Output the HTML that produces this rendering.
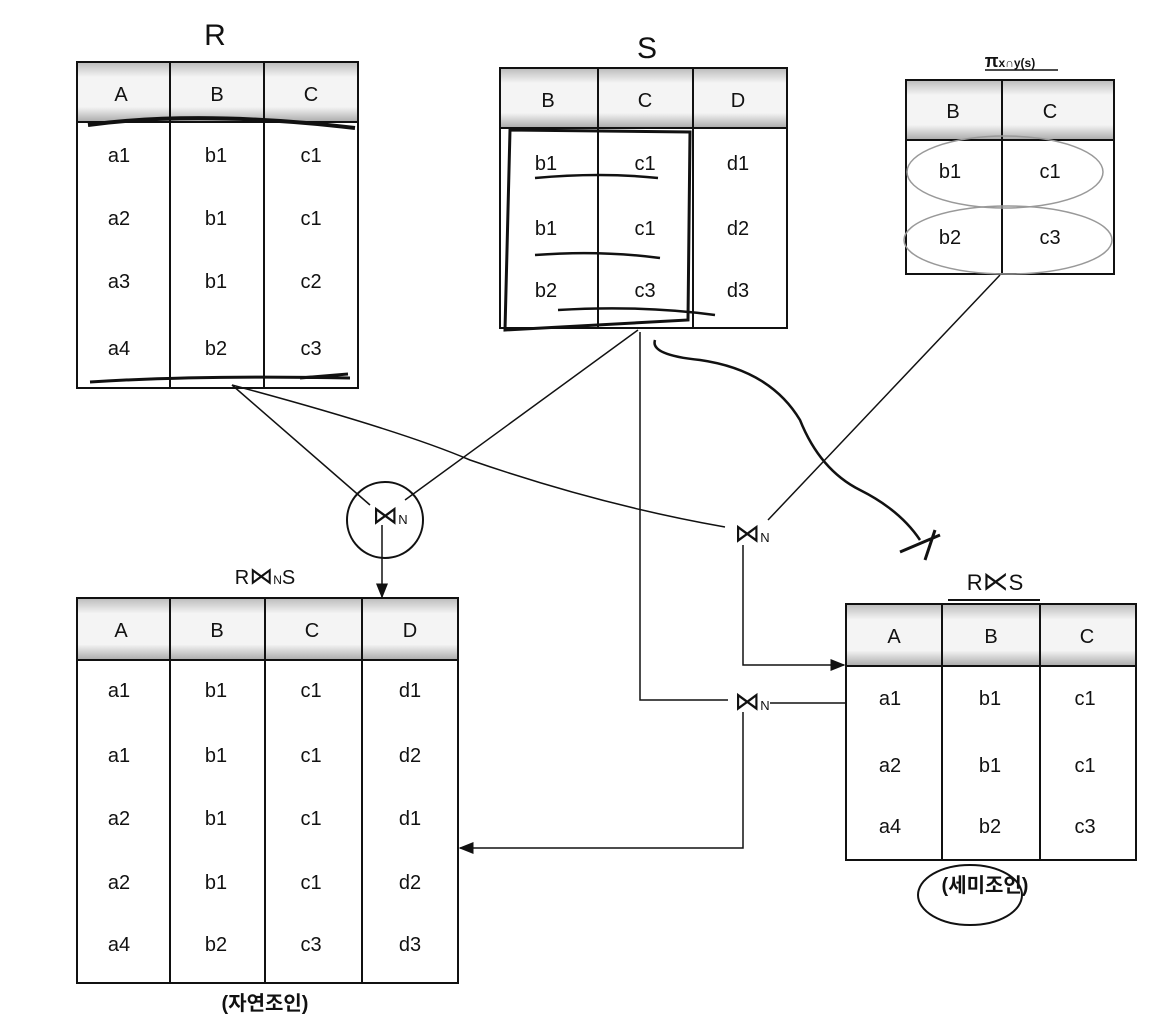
<!DOCTYPE html>
<html><head><meta charset="utf-8"><style>
body{margin:0;background:#fff}
svg{display:block}
text{font-family:"Liberation Sans","Noto Sans CJK KR",sans-serif;fill:#111}
</style></head><body>
<svg width="1170" height="1020" viewBox="0 0 1170 1020" xmlns="http://www.w3.org/2000/svg">
<defs>
<linearGradient id="h" x1="0" y1="0" x2="0" y2="1">
<stop offset="0" stop-color="#bbb"/><stop offset="0.25" stop-color="#f4f4f4"/><stop offset="0.75" stop-color="#f4f4f4"/><stop offset="1" stop-color="#aaa"/></linearGradient>
<marker id="a" markerWidth="10" markerHeight="10" refX="9" refY="5" orient="auto"><path d="M0,1 L10,5 L0,9 Z" fill="#111"/></marker>
</defs>
<g stroke="#111" stroke-width="2" fill="none">
<rect x="77" y="62" width="281" height="60" fill="url(#h)"/>
<rect x="77" y="122" width="281" height="266"/>
<line x1="170" y1="62" x2="170" y2="388"/><line x1="264" y1="62" x2="264" y2="388"/>
<path d="M88,125 Q200,110 355,128" stroke-width="4"/>
<path d="M90,382 Q200,375 350,378 M300,378 L348,374" stroke-width="3"/>
<rect x="500" y="68" width="287" height="60" fill="url(#h)"/>
<rect x="500" y="128" width="287" height="200"/>
<line x1="598" y1="68" x2="598" y2="328"/><line x1="693" y1="68" x2="693" y2="328"/>
<path d="M510,130 L690,132 L688,320 L505,330 Z" stroke-width="3"/>
<path d="M535,178 Q600,172 658,178 M535,255 Q600,250 660,258 M558,310 Q640,305 715,315" stroke-width="2.5"/>
<rect x="906" y="80" width="208" height="60" fill="url(#h)"/>
<rect x="906" y="140" width="208" height="134"/>
<line x1="1002" y1="80" x2="1002" y2="274"/>
<ellipse cx="1005" cy="172" rx="98" ry="36" stroke="#999" stroke-width="1.5"/>
<ellipse cx="1008" cy="240" rx="104" ry="34" stroke="#999" stroke-width="1.5"/>
<line x1="985" y1="70" x2="1058" y2="70" stroke-width="1.5"/>
<rect x="77" y="598" width="381" height="62" fill="url(#h)"/>
<rect x="77" y="660" width="381" height="323"/>
<line x1="170" y1="598" x2="170" y2="983"/><line x1="265" y1="598" x2="265" y2="983"/><line x1="362" y1="598" x2="362" y2="983"/>
<rect x="846" y="604" width="290" height="62" fill="url(#h)"/>
<rect x="846" y="666" width="290" height="194"/>
<line x1="942" y1="604" x2="942" y2="860"/><line x1="1040" y1="604" x2="1040" y2="860"/>
<line x1="948" y1="600" x2="1040" y2="600"/>
<g stroke-width="1.5">
<line x1="232" y1="385" x2="370" y2="505"/>
<line x1="638" y1="330" x2="405" y2="500"/>
<path d="M232,385 Q400,430 470,460 Q600,505 725,527"/>
<line x1="1000" y1="275" x2="768" y2="520"/>
<line x1="382" y1="525" x2="382" y2="597" marker-end="url(#a)"/>
<polyline points="743,545 743,665 844,665" marker-end="url(#a)"/>
<polyline points="640,332 640,700 728,700"/>
<line x1="770" y1="703" x2="846" y2="703"/>
<polyline points="743,712 743,848 460,848" marker-end="url(#a)"/>
</g>
<path d="M655,340 Q650,355 700,360 Q770,370 800,420 Q820,470 860,490 Q900,510 920,540" stroke-width="2.5"/>
<path d="M900,552 L940,535 M925,560 L935,530" stroke-width="3"/>
<circle cx="385" cy="520" r="38"/>
<ellipse cx="970" cy="895" rx="52" ry="30"/>
</g>
<g font-size="20" text-anchor="middle">
<text x="121" y="101">A</text><text x="217" y="101">B</text><text x="311" y="101">C</text>
<text x="119" y="162">a1</text><text x="216" y="162">b1</text><text x="311" y="162">c1</text>
<text x="119" y="225">a2</text><text x="216" y="225">b1</text><text x="311" y="225">c1</text>
<text x="119" y="288">a3</text><text x="216" y="288">b1</text><text x="311" y="288">c2</text>
<text x="119" y="355">a4</text><text x="216" y="355">b2</text><text x="311" y="355">c3</text>
<text x="548" y="107">B</text><text x="645" y="107">C</text><text x="738" y="107">D</text>
<text x="546" y="170">b1</text><text x="645" y="170">c1</text><text x="738" y="170">d1</text>
<text x="546" y="235">b1</text><text x="645" y="235">c1</text><text x="738" y="235">d2</text>
<text x="546" y="297">b2</text><text x="645" y="297">c3</text><text x="738" y="297">d3</text>
<text x="953" y="118">B</text><text x="1050" y="118">C</text>
<text x="950" y="178">b1</text><text x="1050" y="178">c1</text>
<text x="950" y="244">b2</text><text x="1050" y="244">c3</text>
<text x="121" y="637">A</text><text x="217" y="637">B</text><text x="312" y="637">C</text><text x="410" y="637">D</text>
<text x="119" y="697">a1</text><text x="216" y="697">b1</text><text x="311" y="697">c1</text><text x="410" y="697">d1</text>
<text x="119" y="762">a1</text><text x="216" y="762">b1</text><text x="311" y="762">c1</text><text x="410" y="762">d2</text>
<text x="119" y="825">a2</text><text x="216" y="825">b1</text><text x="311" y="825">c1</text><text x="410" y="825">d1</text>
<text x="119" y="889">a2</text><text x="216" y="889">b1</text><text x="311" y="889">c1</text><text x="410" y="889">d2</text>
<text x="119" y="951">a4</text><text x="216" y="951">b2</text><text x="311" y="951">c3</text><text x="410" y="951">d3</text>
<text x="894" y="643">A</text><text x="991" y="643">B</text><text x="1087" y="643">C</text>
<text x="890" y="705">a1</text><text x="990" y="705">b1</text><text x="1085" y="705">c1</text>
<text x="890" y="772">a2</text><text x="990" y="772">b1</text><text x="1085" y="772">c1</text>
<text x="890" y="833">a4</text><text x="990" y="833">b2</text><text x="1085" y="833">c3</text>
</g>
<g text-anchor="middle">
<text x="215" y="45" font-size="30">R</text>
<text x="647" y="58" font-size="30">S</text>
<text x="1010" y="67" font-size="18" font-weight="bold">π<tspan font-size="12">x∩y(s)</tspan></text>
<text x="265" y="584" font-size="20">R<tspan font-size="24">⋈</tspan><tspan font-size="12">N</tspan>S</text>
<text x="995" y="590" font-size="22">R<tspan font-size="26">⋉</tspan>S</text>
<text x="265" y="1010" font-size="20" font-weight="bold">(자연조인)</text>
<text x="985" y="892" font-size="20" font-weight="bold">(세미조인)</text>
<text x="390" y="524" font-size="26">⋈<tspan font-size="13">N</tspan></text>
<text x="752" y="542" font-size="26">⋈<tspan font-size="13">N</tspan></text>
<text x="752" y="710" font-size="26">⋈<tspan font-size="13">N</tspan></text>
</g>
</svg>
</body></html>
